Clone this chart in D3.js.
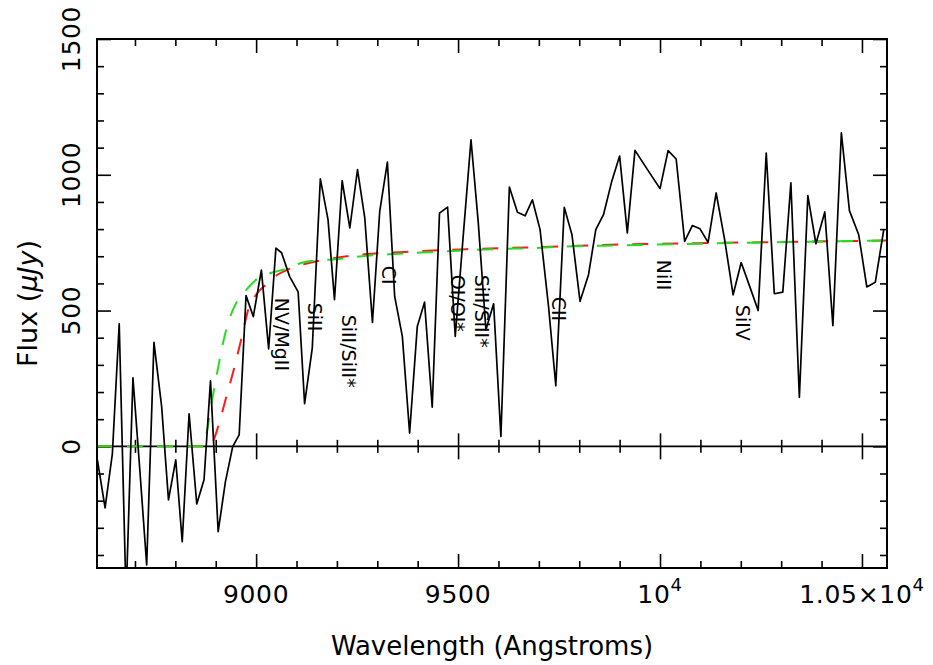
<!DOCTYPE html>
<html>
<head>
<meta charset="utf-8">
<script src="https://cdn.jsdelivr.net/npm/d3@7"></script>
<style>
  body { margin: 0; background: #fff; }
  text { font-family: "DejaVu Sans", sans-serif; fill: #000; }
</style>
</head>
<body>
<div id="chart"></div>
<script>
// spectrum (Angstroms, microJy)
var wavelength = [8607, 8626, 8644, 8661, 8678, 8695, 8712, 8729, 8747, 8766,
  8783, 8801, 8817, 8834, 8853, 8871, 8887, 8906, 8924, 8942,
  8958, 8975, 8993, 9013, 9031, 9049, 9063, 9083, 9104, 9120,
  9139, 9159, 9178, 9194, 9213, 9232, 9251, 9269, 9288, 9306,
  9325, 9343, 9362, 9380, 9399, 9417, 9436, 9454, 9474, 9493,
  9512, 9532, 9550, 9569, 9588, 9606, 9627, 9647, 9666, 9684,
  9703, 9724, 9742, 9763, 9782, 9802, 9823, 9841, 9860, 9880,
  9900, 9919, 9938, 9969, 10000, 10020, 10040, 10061, 10080, 10099,
  10119, 10139, 10160, 10181, 10201, 10222, 10243, 10263, 10283, 10304,
  10324, 10345, 10366, 10386, 10408, 10428, 10449, 10469, 10492, 10512,
  10533, 10554];
var flux = [-50, -227, -28, 451, -560, 252, -86, -437, 383, 147,
  -197, -50, -351, 120, -212, -123, 241, -314, -130, -1,
  42, 555, 478, 649, 359, 730, 713, 625, 569, 157,
  362, 985, 835, 540, 978, 804, 1019, 841, 456, 865,
  1047, 552, 405, 49, 441, 531, 144, 859, 881, 405,
  761, 1129, 824, 429, 525, 36, 955, 862, 849, 908,
  798, 515, 223, 880, 779, 534, 632, 798, 853, 973,
  1069, 786, 1090, 1019, 949, 1089, 1058, 755, 813, 801,
  751, 933, 761, 558, 677, 589, 500, 1080, 562, 568,
  970, 180, 923, 746, 863, 444, 1154, 868, 779, 587,
  604, 798];

// model curves
var greenWave = [8606, 8871, 8878, 8891, 8903, 8918, 8935, 8952, 8977, 8997,
  9014, 9041, 9081, 9115, 9157, 9190, 9273, 9355, 9437, 9520,
  9602, 9684, 9767, 9899, 10096, 10261, 10426, 10562];
var greenFlux = [0, 0, 53, 171, 267, 381, 474, 532, 579, 610,
  628, 640, 657, 677, 685, 688, 702, 709, 716, 722,
  727, 730, 736, 740, 746, 751, 755, 758];
var redWave = [8606, 8888, 8895, 8905, 8915, 8928, 8940, 8952, 8967, 8979,
  8992, 9004, 9024, 9049, 9083, 9133, 9207, 9273, 9355, 9520,
  9684, 9899, 10096, 10426, 10562];
var redFlux = [0, 0, 24, 68, 120, 193, 256, 326, 418, 496,
  540, 566, 595, 628, 654, 676, 696, 708, 715, 726,
  733, 743, 748, 755, 758];

// line ids: name, wavelength, flux where the label starts
var lineNames = ["NV/MgII", "SiII", "SiII/SiII*", "CI", "OI/OI*", "SiII/SiII*", "CII", "NiII", "SiIV"];
var lineWave = [9064, 9146, 9230, 9330, 9500, 9559, 9750, 10010, 10206];
var lineTop = [547, 529, 485, 665, 632, 632, 551, 687, 521];

var xMajor = [9000, 9500, 10000, 10500];
var xLabels = [["9000", ""], ["9500", ""], ["10", "4"], ["1.05\u00d710", "4"]];
var yMajor = [0, 500, 1000, 1500];
var yLabels = ["0", "500", "1000", "1500"];

var margin = { top: 39, right: 46, bottom: 98, left: 97 },
  width = 933 - margin.left - margin.right,
  height = 666 - margin.top - margin.bottom;

var svg = d3.select("#chart").append("svg")
  .attr("width", 933)
  .attr("height", 665);

var g = svg.append("g")
  .attr("transform", "translate(" + margin.left + "," + margin.top + ")");

var x = d3.scaleLinear().domain([8606, 10562]).range([0, width]);
var y = d3.scaleLinear().domain([-448, 1500]).range([height, 0]);

var xMinor = d3.range(8700, 10600, 100).filter(function (d) { return xMajor.indexOf(d) < 0; });
var yMinor = d3.range(-400, 1600, 100).filter(function (d) { return yMajor.indexOf(d) < 0; });

function ticks(axis, vals, size, tx, ty) {
  g.append("g")
    .attr("transform", "translate(" + tx + "," + ty + ")")
    .call(axis.tickValues(vals).tickSize(size).tickFormat(""))
    .call(function (s) {
      s.select(".domain").remove();
      s.selectAll("line").attr("stroke-width", 1.6);
    });
}

// inward ticks on the frame
ticks(d3.axisBottom(x), xMajor, -14, 0, height);
ticks(d3.axisBottom(x), xMinor, -7, 0, height);
ticks(d3.axisTop(x), xMajor, -14, 0, 0);
ticks(d3.axisTop(x), xMinor, -7, 0, 0);
ticks(d3.axisLeft(y), yMajor, -14, 0, 0);
ticks(d3.axisLeft(y), yMinor, -7, 0, 0);
ticks(d3.axisRight(y), yMajor, -14, width, 0);
ticks(d3.axisRight(y), yMinor, -7, width, 0);
// zero axis with ticks on both sides
ticks(d3.axisTop(x), xMajor, 13, 0, y(0));
ticks(d3.axisTop(x), xMinor, 6.5, 0, y(0));
ticks(d3.axisBottom(x), xMajor, 13, 0, y(0));
ticks(d3.axisBottom(x), xMinor, 6.5, 0, y(0));

g.append("line")
  .attr("x1", 0).attr("x2", width)
  .attr("y1", y(0)).attr("y2", y(0))
  .attr("stroke", "#000").attr("stroke-width", 1.6);

g.append("clipPath").attr("id", "plotclip")
  .append("rect").attr("width", width).attr("height", height);

var plot = g.append("g").attr("clip-path", "url(#plotclip)");

var modelLine = d3.line()
  .x(function (d) { return x(d[0]); })
  .y(function (d) { return y(d[1]); })
  .curve(d3.curveMonotoneX);

plot.append("path")
  .datum(d3.zip(redWave, redFlux))
  .attr("d", modelLine)
  .attr("fill", "none")
  .attr("stroke", "#ff1a1a")
  .attr("stroke-width", 2)
  .attr("stroke-dasharray", "16,14");

plot.append("path")
  .datum(d3.zip(greenWave, greenFlux))
  .attr("d", modelLine)
  .attr("fill", "none")
  .attr("stroke", "#1fe01f")
  .attr("stroke-width", 2)
  .attr("stroke-dasharray", "16,14");

plot.append("path")
  .datum(d3.zip(wavelength, flux))
  .attr("d", d3.line()
    .x(function (d) { return x(d[0]); })
    .y(function (d) { return y(d[1]); }))
  .attr("fill", "none")
  .attr("stroke", "#000")
  .attr("stroke-width", 1.7)
  .attr("stroke-linejoin", "round");

// frame
g.append("rect")
  .attr("width", width).attr("height", height)
  .attr("fill", "none")
  .attr("stroke", "#000")
  .attr("stroke-width", 2);

// line identifications
g.selectAll(".lineid")
  .data(lineNames)
  .enter()
  .append("text")
  .attr("class", "lineid")
  .attr("transform", function (d, i) {
    return "translate(" + (x(lineWave[i]) - 7) + "," + y(lineTop[i]) + ")rotate(90)";
  })
  .style("font-size", "19px")
  .text(function (d) { return d; });

// tick labels
var xl = g.selectAll(".xlab")
  .data(xMajor)
  .enter()
  .append("text")
  .attr("class", "xlab")
  .attr("x", function (d) { return x(d); })
  .attr("y", height + 35)
  .attr("text-anchor", "middle")
  .style("font-size", "25px")
  .style("letter-spacing", "0.7px");
xl.append("tspan").text(function (d, i) { return xLabels[i][0]; });
xl.append("tspan")
  .attr("dy", -12)
  .style("font-size", "18px")
  .text(function (d, i) { return xLabels[i][1]; });

g.selectAll(".ylab")
  .data(yMajor)
  .enter()
  .append("text")
  .attr("class", "ylab")
  .attr("transform", function (d) { return "translate(-17," + y(d) + ")rotate(-90)"; })
  .attr("text-anchor", "middle")
  .style("font-size", "25px")
  .style("letter-spacing", "0.7px")
  .text(function (d, i) { return yLabels[i]; });

// axis titles
g.append("text")
  .attr("x", width / 2)
  .attr("y", height + 87)
  .attr("text-anchor", "middle")
  .style("font-size", "26px")
  .text("Wavelength (Angstroms)");

var yt = g.append("text")
  .attr("transform", "translate(-60," + (height / 2) + ")rotate(-90)")
  .attr("text-anchor", "middle")
  .style("font-size", "27px");
yt.append("tspan").text("Flux (");
yt.append("tspan").style("font-style", "italic").text("\u03bcJy");
yt.append("tspan").text(")");
</script>
</body>
</html>
